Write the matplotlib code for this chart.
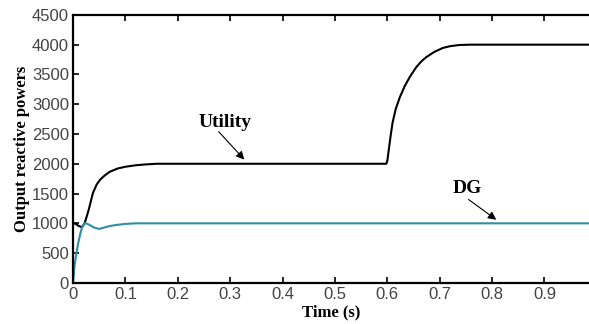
import matplotlib
matplotlib.use('Agg')
from matplotlib import pyplot as plt

# values
t_utility = [0, 0.005, 0.010, 0.015, 0.018, 0.022, 0.026, 0.030, 0.038, 0.045, 0.052,
             0.060, 0.070, 0.085, 0.100, 0.120, 0.140, 0.160, 0.200, 0.300, 0.400,
             0.500, 0.598, 0.600, 0.603, 0.606, 0.610, 0.616, 0.624, 0.633, 0.643,
             0.655, 0.665, 0.675, 0.690, 0.706, 0.720, 0.738, 0.760, 0.800, 0.900, 0.985]
q_utility = [1000, 990, 960, 940, 945, 1000, 1110, 1230, 1510, 1650, 1735,
             1800, 1865, 1920, 1950, 1975, 1990, 2000, 2000, 2000, 2000,
             2000, 2000, 2050, 2250, 2450, 2690, 2920, 3120, 3300, 3460,
             3620, 3720, 3795, 3880, 3945, 3975, 3995, 4000, 4000, 4000, 4000]

t_dg = [0, 0.003, 0.006, 0.010, 0.014, 0.018, 0.023, 0.030, 0.040, 0.050, 0.060,
        0.070, 0.085, 0.100, 0.120, 0.200, 0.400, 0.600, 0.800, 0.985]
q_dg = [0, 300, 480, 670, 830, 950, 1005, 980, 930, 905, 930,
        955, 975, 990, 1000, 1000, 1000, 1000, 1000, 1000]

xticks = [0, 0.1, 0.2, 0.3, 0.4, 0.5, 0.6, 0.7, 0.8, 0.9]
yticks = [0, 500, 1000, 1500, 2000, 2500, 3000, 3500, 4000, 4500]

fig = plt.figure(figsize=(5.89, 3.24), dpi=100)
ax = fig.add_axes([0.124, 0.127, 0.876, 0.827])

ax.plot(t_utility, q_utility, color='k', linewidth=1.5)
ax.plot(t_dg, q_dg, color='#2e8ea3', linewidth=1.5)

ax.set_xlim(0, 0.985)
ax.set_ylim(0, 4500)
ax.set_xticks(xticks)
ax.set_xticklabels([('%g' % v) for v in xticks], family='Liberation Sans', fontsize=12, color='#444444')
ax.set_yticks(yticks)
ax.set_yticklabels([str(v) for v in yticks], family='Liberation Sans', fontsize=12, color='#444444')
ax.tick_params(direction='in', length=4, width=1.2, top=True, pad=3)

ax.spines['right'].set_visible(False)
for s in ['left', 'bottom', 'top']:
    ax.spines[s].set_linewidth(1.6)

ax.set_xlabel('Time (s)', family='Liberation Serif', fontweight='bold', fontsize=12, labelpad=2)
ax.set_ylabel('Output reactive powers', family='Liberation Serif', fontweight='bold', fontsize=12, labelpad=1)

ax.text(0.29, 2700, 'Utility', ha='center', va='center',
        family='Liberation Serif', fontweight='bold', fontsize=14)
ax.annotate('', xy=(0.327, 2070), xytext=(0.278, 2540),
            arrowprops=dict(arrowstyle='-|>', color='k', lw=0.8, mutation_scale=12,
                            shrinkA=0, shrinkB=0))
ax.text(0.753, 1580, 'DG', ha='center', va='center',
        family='Liberation Serif', fontweight='bold', fontsize=14)
ax.annotate('', xy=(0.808, 1060), xytext=(0.755, 1400),
            arrowprops=dict(arrowstyle='-|>', color='k', lw=0.8, mutation_scale=12,
                            shrinkA=0, shrinkB=0))

fig.savefig('out.png', dpi=100)
